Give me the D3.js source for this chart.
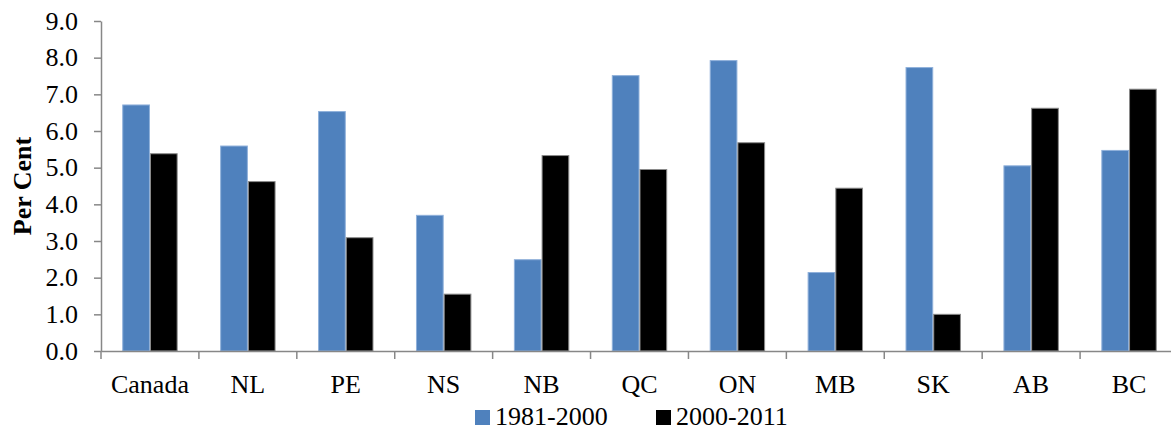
<!DOCTYPE html>
<html><head><meta charset="utf-8">
<script src="https://cdn.jsdelivr.net/npm/d3@7"></script>
<style>
html,body{margin:0;padding:0;background:#fff;overflow:hidden;}
text{font-family:"Liberation Serif","Times New Roman",serif;fill:#000;}
</style></head>
<body>
<svg id="chart" width="1171" height="430"></svg>
<script>
const categories = ["Canada","NL","PE","NS","NB","QC","ON","MB","SK","AB","BC"];
const seriesNames = ["1981-2000","2000-2011"];
const values1981_2000 = [6.71,5.59,6.53,3.70,2.49,7.51,7.92,2.14,7.73,5.05,5.47];
const values2000_2011 = [5.38,4.62,3.09,1.55,5.33,4.95,5.68,4.44,1.00,6.62,7.14];
const seriesColors = ["#4F81BD","#000000"];
const seriesStrokes = ["#8fb0da","#8a8a8a"];
const yTicks = [0,1,2,3,4,5,6,7,8,9];
const yLabel = "Per Cent";

const svg = d3.select("#chart");
const mLeft = 101, mRight = 1178, mTop = 21, mBottom = 351;
const axisColor = "#878787";

const x = d3.scaleBand().domain(categories).range([mLeft, mRight]).padding(0);
const x1 = d3.scaleBand().domain(seriesNames).range([0, x.bandwidth()]).paddingInner(0).paddingOuter(0.767);
const y = d3.scaleLinear().domain([0, 9]).range([mBottom, mTop]);

const data = categories.map((c, i) => ({cat: c, vals: [values1981_2000[i], values2000_2011[i]]}));

// bars
const g = svg.append("g");
data.forEach(d => {
  d.vals.forEach((v, si) => {
    g.append("rect")
      .attr("x", x(d.cat) + x1(seriesNames[si]) + 0.5)
      .attr("y", y(v))
      .attr("width", x1.bandwidth() - 1)
      .attr("height", y(0) - y(v))
      .attr("fill", seriesColors[si])
      .attr("stroke", seriesStrokes[si])
      .attr("stroke-width", 1);
  });
});

// y axis
const yAxis = d3.axisLeft(y).tickValues(yTicks).tickFormat(d3.format(".1f")).tickSize(7).tickSizeOuter(0).tickPadding(16);
const ya = svg.append("g").attr("transform", `translate(${mLeft},0)`).call(yAxis);
ya.select(".domain").attr("stroke", axisColor).attr("stroke-width", 1.5);
ya.selectAll(".tick line").attr("stroke", axisColor).attr("stroke-width", 1.5);
ya.selectAll(".tick text").attr("font-family", "Liberation Serif").attr("font-size", 26).attr("fill", "#000");

// x axis
const xAxis = d3.axisBottom(x).tickSize(0).tickSizeOuter(0).tickPadding(0);
const xa = svg.append("g").attr("transform", `translate(0,${mBottom})`).call(xAxis);
xa.select(".domain").attr("stroke", axisColor).attr("stroke-width", 1.5);
xa.selectAll(".tick text").attr("font-family", "Liberation Serif").attr("font-size", 26).attr("fill", "#000").attr("dy", null).attr("y", 42);
// boundary ticks
const bounds = categories.map(c => x(c)).concat([x.range()[1]]);
xa.selectAll(".btick").data(bounds).enter().append("line")
  .attr("x1", d => d).attr("x2", d => d).attr("y1", 0).attr("y2", 8)
  .attr("stroke", axisColor).attr("stroke-width", 1.5);

// y label
svg.append("text")
  .attr("transform", `translate(31,${(mTop + mBottom) / 2}) rotate(-90)`)
  .attr("text-anchor", "middle")
  .attr("font-size", 26).attr("font-weight", "bold")
  .text(yLabel);

// legend
const legendX = [475, 656];
seriesNames.forEach((s, i) => {
  svg.append("rect").attr("x", legendX[i]).attr("y", 410).attr("width", 15).attr("height", 15).attr("fill", seriesColors[i]);
  svg.append("text").attr("x", legendX[i] + 20).attr("y", 425).attr("font-size", 26).text(s);
});
</script>
</body></html>
